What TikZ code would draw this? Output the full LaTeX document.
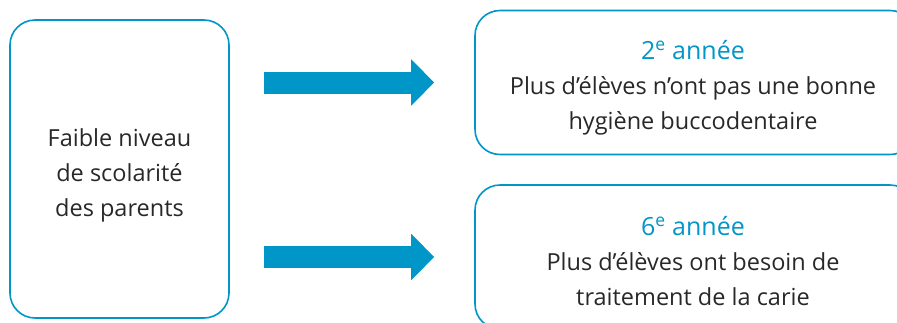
\documentclass[tikz,border=0pt]{standalone}
\usepackage{fontspec}
\setmainfont{Open Sans}
\usetikzlibrary{arrows.meta}
\definecolor{accent}{RGB}{0,150,200}
\definecolor{ink}{RGB}{40,40,40}
\tikzset{>=latex}
\tikzset{
  box/.style={draw=accent, line width=1.6pt, rounded corners=25pt, inner sep=0pt},
  boxtext/.style={align=center, text=ink, font=\fontsize{23.5}{35}\selectfont, inner sep=0pt},
  bigarrow/.style={accent, line width=22pt, -{Triangle[length=23pt,width=45pt]},
    shorten <=34pt, shorten >=40pt}
}
\newcommand{\gradetitle}[1]{{\color{accent}\fontsize{25}{38}\selectfont #1\textsuperscript{e} année}}

\begin{document}
\begin{tikzpicture}[x=1pt, y=-1pt]
    \useasboundingbox(0, 0) rectangle (897, 322);
    \clip(0, 0) rectangle (897, 322);
    \node[box, minimum width=219pt, minimum height=298pt](cause) at (119.5, 169){};
    \node[box, minimum width=440pt, minimum height=144pt](grade2) at (695, 82.5){};
    \node[box, minimum width=440pt, minimum height=144pt](grade6) at (695, 257){};
    \node[boxtext](causetext) at ([yshift=-6pt]cause.center){Faible niveau\\de scolarité\\des parents};
    \node[boxtext](grade2text) at ([xshift=-2pt, yshift=-5pt]grade2.center)
        {\gradetitle{2}\\Plus d’élèves n’ont pas une bonne\\hygiène buccodentaire};
    \node[boxtext](grade6text) at ([xshift=-2pt, yshift=-4pt]grade6.center)
        {\gradetitle{6}\\Plus d’élèves ont besoin de\\traitement de la carie};
    \draw[bigarrow](cause.east |- grade2.west) -- (grade2.west);
    \draw[bigarrow](cause.east |- grade6.west) -- (grade6.west);
\end{tikzpicture}
\end{document}
